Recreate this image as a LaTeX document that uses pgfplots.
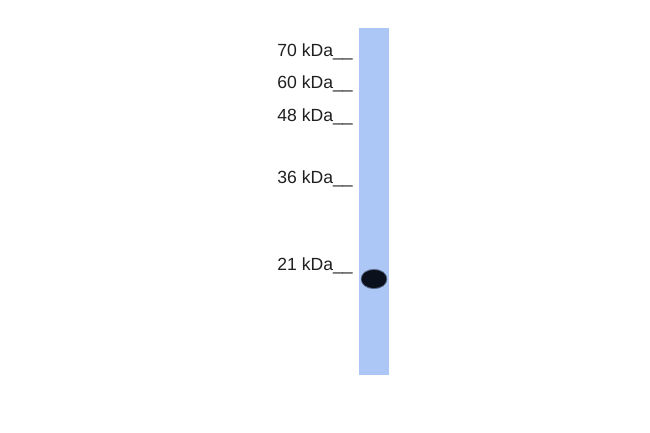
\documentclass[border=0pt]{standalone}
\usepackage{fontspec}
\setmainfont{Liberation Sans}
\usepackage{pgfplots}
\pgfplotsset{compat=1.18}
\definecolor{lane}{RGB}{172,198,245}
\definecolor{bandc}{RGB}{10,16,28}
\definecolor{halo}{RGB}{40,60,100}
\begin{document}
\begin{tikzpicture}
  \begin{axis}[
      width=650pt, height=432pt,
      scale only axis,
      xmin=0, xmax=650,
      ymin=0, ymax=432,
      y dir=reverse,
      ticks=none,
      axis line style={draw=none},
      clip=false,
    ]
    % lane
    \addplot[fill=lane, draw=none] coordinates {
      (359,28.3) (389,28.3) (389,375) (359,375)} -- cycle;
    % band
    \addplot[only marks, mark=*, mark size=9.8pt,
      mark options={xscale=1.33, fill=halo, draw=none, opacity=0.5}]
      coordinates {(374,279)};
    \addplot[only marks, mark=*, mark size=8.8pt,
      mark options={xscale=1.38, fill=bandc, draw=none}]
      coordinates {(374,279)};
    % marker labels
    \addplot[only marks, mark=none,
      point meta=explicit symbolic,
      nodes near coords,
      nodes near coords style={anchor=base east, inner sep=0pt,
        font=\fontsize{17.6}{20}\selectfont, text=black!88}]
      coordinates {
        (353,56) [70 kDa\_\_]
        (353,88) [60 kDa\_\_]
        (353,121.5) [48 kDa\_\_]
        (353,183.3) [36 kDa\_\_]
        (353,270.7) [21 kDa\_\_]
      };
  \end{axis}
\end{tikzpicture}
\end{document}
